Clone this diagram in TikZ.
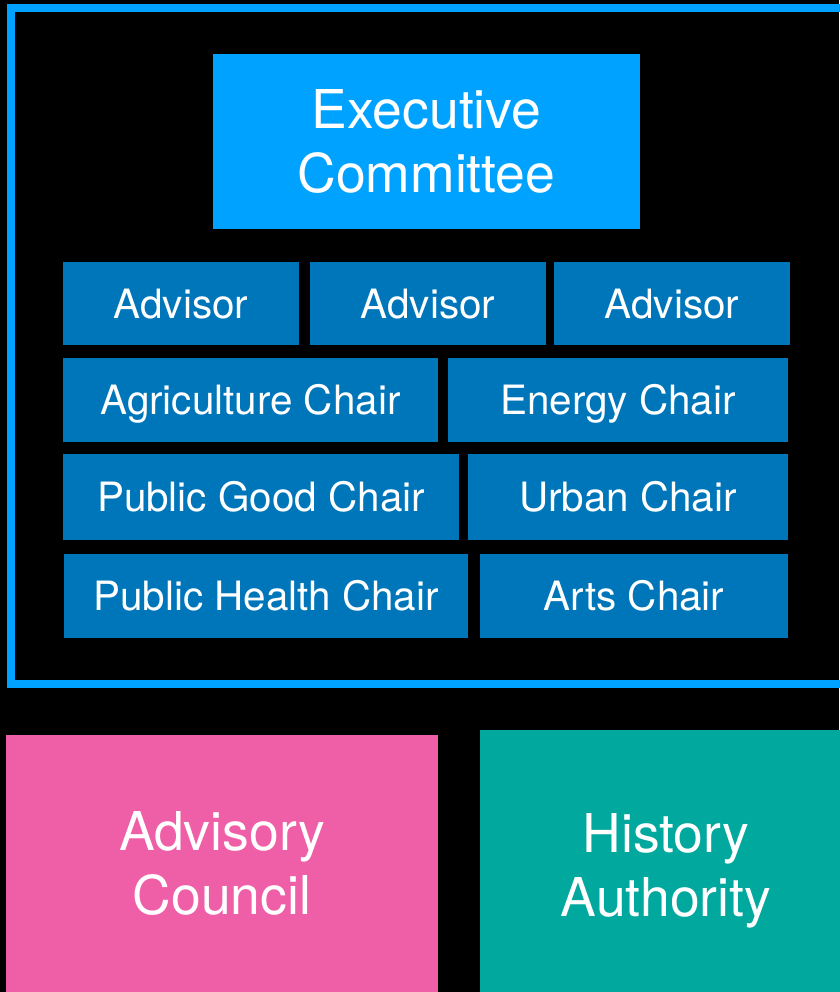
\documentclass[tikz,border=0pt]{standalone}
\usepackage{fontspec}
\setmainfont{TeX Gyre Heros}
\definecolor{lightblue}{HTML}{00A2FF}
\definecolor{darkblue}{HTML}{0076BA}
\definecolor{pinkc}{HTML}{EF5FA7}
\definecolor{tealc}{HTML}{00A89D}
\begin{document}
\begin{tikzpicture}[x=1pt,y=-1pt,
  frame/.style={draw=lightblue, line width=8pt},
  smallbox/.style={fill=darkblue, text=white, inner sep=0pt, font=\fontsize{40.4}{48}\selectfont, text height=29pt, text depth=0pt},
  bigbox/.style={text=white, inner sep=0pt, align=center, font=\fontsize{53.5}{64}\selectfont}]
\useasboundingbox (0,0) rectangle (839,992);
\fill[black] (0,0) rectangle (839,992);
\draw[frame] (11,8) rectangle (880,683.5);
\node[bigbox, fill=lightblue, minimum width=427, minimum height=175] (exec) at (426.5,141.5) {Executive\\Committee};
\node[smallbox, minimum width=236, minimum height=83] (adv1) at (181,303.5) {Advisor};
\node[smallbox, minimum width=236, minimum height=83] (adv2) at (428,303.5) {Advisor};
\node[smallbox, minimum width=236, minimum height=83] (adv3) at (672,303.5) {Advisor};
\node[smallbox, minimum width=375, minimum height=84] (agri) at (250.5,400) {Agriculture Chair};
\node[smallbox, minimum width=340, minimum height=84] (energy) at (618,400) {Energy Chair};
\node[smallbox, minimum width=396, minimum height=86] (pgood) at (261,497) {Public Good Chair};
\node[smallbox, minimum width=320, minimum height=86] (urban) at (628,497) {Urban Chair};
\node[smallbox, minimum width=404, minimum height=84] (phealth) at (266,596) {Public Health Chair};
\node[smallbox, minimum width=308, minimum height=84] (arts) at (634,596) {Arts Chair};
\node[bigbox, fill=pinkc, minimum width=432, minimum height=257] (council) at (222,863.5) {Advisory\\Council};
\node[bigbox, fill=tealc, minimum width=372, minimum height=270] (history) at (666,865) {History\\\smash{Authority}};
\end{tikzpicture}
\end{document}
